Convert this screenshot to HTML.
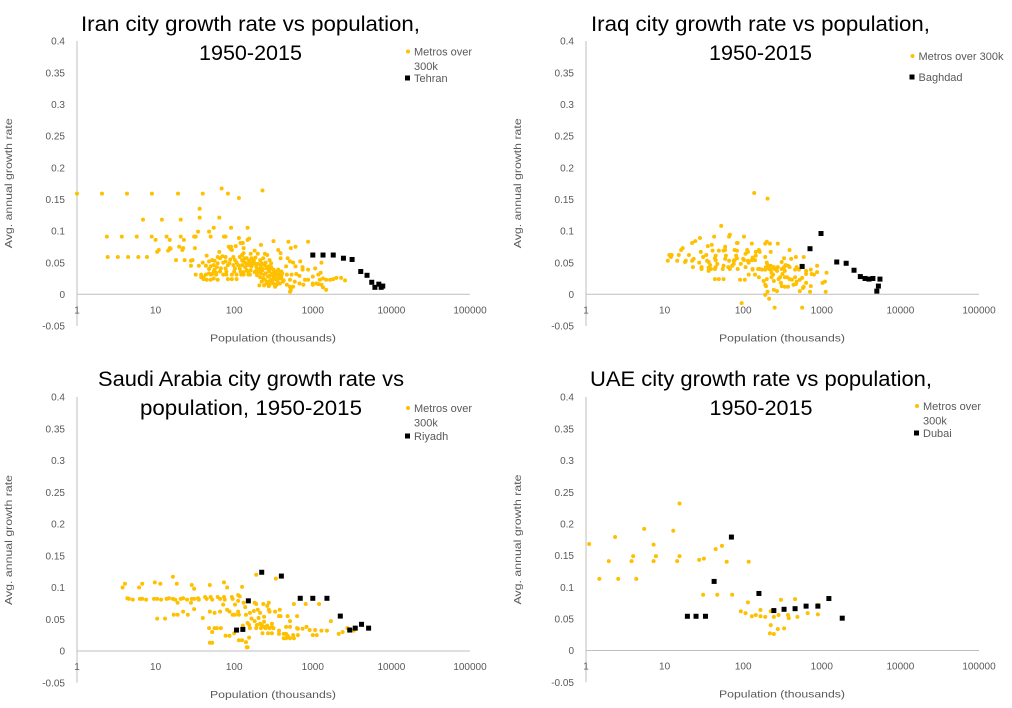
<!DOCTYPE html>
<html lang="en">
<head>
<meta charset="utf-8">
<title>City growth rate vs population, 1950-2015</title>
<style>
html,body{margin:0;padding:0;background:#fff;}
svg{display:block;font-family:"Liberation Sans",Arial,sans-serif;}
</style>
</head>
<body>
<svg id="chart-page" xmlns="http://www.w3.org/2000/svg" width="1012" height="708" viewBox="0 0 1012 708"></svg>
<script>
const xTickLabels = [1, 10, 100, 1000, 10000, 100000];
const yTickLabels = [0.4, 0.35, 0.3, 0.25, 0.2, 0.15, 0.1, 0.05, 0, -0.05];

/* Population is stored as log10(thousands); rate is average annual growth. */
const iranMetroLogPop = [
0,.318,.636,.953,1.285,1.6,1.84,1.92,2.06,2.36,
1.56,1.56,1.81,.84,1.08,1.32,
.38,.57,.76,.95,1.14,1.32,1.49,1.5,1.51,1.7,1.87,1.88,1.89,
1.54,1.68,1.74,1.96,2.17,2.06,2.19,2.17,
1,1.18,1.36,2.5,2.69,2.94,2.08,2.11,2.34,2.72,2.78,
2.02,1.93,1.96,1.95,1.97,2.12,1.5,1.3,1.35,1.34,1.18,1.19,1.16,1.04,1.02,
2.56,2.59,2.59,1.81,2.26,2.21,2.3,2.39,2.42,2.12,1.65,
.39,.52,.65,.78,.89,
1.26,1.37,1.47,1.45,1.45,1.55,1.6,1.64,
1.68,1.72,1.74,1.68,1.75,1.79,1.82,1.85,1.79,1.83,1.75,1.68,
1.89,1.89,1.92,1.94,1.89,1.99,2.01,1.99,2.01,2.07,2.1,2.1,2.1,2.07,2.12,2.16,2.18,2.22,2.24,2.22,
2.26,2.28,2.33,2.35,2.37,2.39,2.33,2.41,2.45,2.47,2.5,2.45,2.68,2.71,2.75,2.66,2.78,2.84,2.87,2.87,
2.94,3.03,3.11,3.1,
1.51,1.58,1.64,1.7,1.77,1.86,1.9,1.97,2.03,2.09,2.12,2.18,2.2,
1.58,1.61,1.61,1.65,1.7,1.74,1.79,1.92,1.97,2.03,1.74,1.82,1.72,1.77,
2.34,2.38,2.33,2.4,2.43,2.39,2.45,2.48,2.52,2.56,2.6,2.37,2.5,2.54,2.58,2.61,2.47,2.52,2.56,2.6,
2.41,2.45,2.5,2.54,2.58,2.62,2.67,2.71,2.43,2.6,2.67,2.73,2.79,2.83,2.71,2.77,2.83,2.88,2.75,2.72,2.71,
2.9,2.94,3,3.07,3.09,3.13,3.17,3.22,3.26,3.3,3.36,3.41,3,3.05,3.11,3,3.13,3.17,3.07,
2.28,2.31,2.36,2.44,2.49,2.53,2.57,2.29,2.35,2.42,2.46,2.51,2.55,2.59,2.63,2.32,2.38,2.44,2.52,2.48,
1.7,1.78,1.86,1.95,2.03,2.05,2.13,2.15,2.19,2.2,2.23,2.25,2.27,2.3,2.31,
2.14,2.16,2.08,2,1.9,2.21,2.26,2.29,2.34,2.36,2.4,2.44,2.47,2.18,2.12
];
const iranMetroRate = [
.159,.159,.159,.159,.159,.159,.167,.159,.152,.164,
.135,.121,.121,.118,.118,.118,
.091,.091,.091,.091,.091,.091,.091,.091,.091,.091,.091,.091,.091,
.099,.099,.105,.105,.105,.089,.088,.086,
.086,.086,.086,.084,.083,.083,.081,.081,.078,.073,.075,
.076,.075,.075,.072,.07,.073,.073,.075,.073,.07,.073,.072,.069,.07,.067,
.07,.065,.057,.067,.069,.064,.064,.064,.062,.065,.061,
.059,.059,.059,.059,.059,
.054,.054,.054,.053,.045,.045,.05,.045,
.052,.054,.046,.04,.053,.059,.057,.06,.049,.041,.039,.033,
.059,.052,.046,.049,.041,.059,.054,.046,.041,.059,.062,.054,.046,.041,.052,.057,.046,.057,.052,.044,
.049,.044,.054,.049,.057,.046,.041,.041,.054,.049,.039,.039,.057,.052,.05,.044,.044,.052,.043,.039,
.039,.041,.05,.034,
.031,.031,.031,.031,.031,.031,.031,.031,.031,.031,.031,.031,.031,
.027,.024,.027,.023,.023,.025,.023,.024,.024,.024,.036,.036,.032,.034,
.033,.031,.027,.033,.028,.023,.029,.033,.036,.039,.036,.025,.028,.031,.031,.033,.023,.024,.025,.025,
.017,.015,.017,.015,.017,.02,.015,.012,.02,.029,.031,.031,.032,.029,.023,.02,.017,.015,.012,.007,.004,
.023,.023,.028,.031,.023,.025,.023,.023,.024,.026,.026,.022,.017,.017,.015,.015,.011,.007,.016,
.037,.035,.038,.036,.033,.03,.034,.03,.02,.018,.022,.026,.021,.026,.022,.014,.014,.013,.012,.02,
.044,.043,.05,.055,.05,.046,.057,.049,.053,.049,.047,.054,.058,.048,.038,
.043,.038,.036,.036,.036,.038,.035,.04,.045,.04,.05,.044,.043,.035,.035
];
const iranCityLogPop = [3,3.13,3.26,3.39,3.5,3.61,3.69,3.75,3.79,3.84,3.87,3.89];
const iranCityRate = [.062,.062,.062,.057,.055,.036,.03,.019,.011,.016,.011,.013];

const iraqMetroLogPop = [
2.14,2.31,1.72,1.83,1.82,1.63,1.45,2.01,1.39,1.35,2.11,2.3,2.28,2.34,2.44,1.92,1.93,1.55,1.6,1.23,1.21,1.77,1.46,1.61,
1.69,1.75,1.77,1.89,1.92,2.05,2.06,2.03,2.2,2.21,2.16,2.35,2.59,
1.06,1.09,1.08,1.18,1.04,1.16,1.31,1.26,1.27,1.35,1.37,1.36,1.44,1.49,1.53,
1.54,1.56,1.58,1.47,1.47,1.56,1.56,1.65,1.64,1.65,1.67,1.65,1.64,1.59,1.64,1.69,1.75,
1.78,1.77,1.82,1.75,1.74,1.81,1.83,1.86,1.88,1.91,1.92,1.89,1.88,1.93,1.97,2.01,2,
1.96,2.02,2.07,2.15,2.03,2.07,2.06,2.11,2.12,2.16,2.15,2.12,2.12,2.19,2.2,2.21,2.24,2.28,
2.28,2.29,2.3,2.31,2.33,2.35,2.35,2.36,2.39,2.4,2.38,2.42,2.44,2.43,2.36,2.39,
2.26,2.28,2.3,2.29,2.31,2.28,2.33,1.98,2.4,2.75,2.39,2.43,
2.45,2.48,2.49,2.53,2.57,2.47,2.53,2.56,2.59,2.62,2.64,2.67,2.68,
2.49,2.52,2.49,2.52,2.53,2.5,2.54,2.57,2.59,2.61,2.67,2.77,
2.66,2.68,2.71,2.66,2.72,2.75,2.8,2.86,2.72,2.76,2.85,2.77,
2.8,2.8,2.86,2.87,2.9,2.94,2.94,3.06,3.01,3.04,3.05
];
const iraqMetroRate = [
.16,.151,.108,.094,.091,.091,.089,.091,.084,.081,.08,.083,.08,.08,.08,.081,.081,.076,.078,.073,.07,.075,.067,.069,
.069,.069,.07,.07,.069,.07,.067,.064,.07,.067,.067,.067,.07,
.062,.062,.059,.062,.053,.053,.062,.051,.053,.053,.056,.043,.05,.059,.062,
.053,.051,.046,.043,.04,.037,.042,.061,.057,.054,.048,.043,.04,.04,.024,.024,.024,
.061,.056,.053,.045,.04,.043,.04,.045,.048,.061,.057,.054,.053,.04,.048,.054,.056,
.023,.023,.031,.031,.043,.05,.053,.054,.058,.061,.054,.04,.039,.04,.027,.04,.039,.059,
.039,.043,.05,.046,.04,.045,.039,.034,.043,.04,.031,.04,.043,.037,.027,.021,
.021,.015,.024,.013,.004,-.001,-.007,-.014,-.021,-.021,.007,.005,
.024,.018,.013,.012,.012,.027,.027,.027,.024,.023,.015,.016,.02,
.051,.057,.04,.043,.037,.032,.046,.045,.043,.056,.059,.059,
.039,.043,.039,.027,.023,.026,.018,.013,.005,.01,.004,.012,
.037,.032,.039,.032,.031,.045,.035,.034,.018,.02,.004
];
const iraqCityLogPop = [2.75,2.85,2.99,3.19,3.31,3.41,3.49,3.55,3.6,3.65,3.74,3.72,3.7];
const iraqCityRate = [.044,.072,.096,.051,.049,.038,.028,.025,.024,.025,.024,.013,.005];

const saudiMetroLogPop = [
.58,.61,.79,.83,.99,1.06,1.22,1.27,1.46,1.49,1.69,1.87,1.91,2.1,2.28,2.53,
.64,.66,.71,.8,.83,.88,.98,1.02,1.07,1.14,1.17,1.22,1.25,1.32,1.35,1.4,1.46,1.49,1.54,1.55,
1.63,1.65,1.7,1.72,1.79,1.82,1.87,1.88,1.97,1.98,2.05,2.07,
1.28,1.45,1.86,2.01,2.05,2.12,2.14,2.26,2.28,2.37,2.42,2.44,2.76,2.91,3.08,
1.49,1.69,1.75,1.82,1.91,1.94,1.98,2.01,2.05,2.06,2.15,2.2,2.25,2.3,2.33,2.44,2.45,2.52,2.58,2.57,2.59,
1.23,1.28,1.35,1.41,1.6,1.02,1.12,2.38,2.31,2.68,2.8,2.71,3.23,
2.22,2.26,2.38,2.17,2.19,2.2,2.11,2.29,2.33,2.28,2.34,2.38,2.4,2.35,2.42,2.45,2.48,2.48,2.5,
1.68,1.72,1.75,1.78,1.83,1.89,1.94,2,2.06,2.1,2.19,2.15,2.16,2.17,1.69,1.72,
2.36,2.43,2.48,2.57,2.57,2.63,2.66,2.63,2.66,2.68,2.71,2.75,2.76,2.81,
2.66,2.71,2.8,2.81,2.87,2.92,2.96,3.03,3,3.05,3.11,3.18,3.33,3.38,3.44,3.52
];
const saudiMetroRate = [
.1,.106,.1,.106,.108,.106,.117,.106,.104,.098,.104,.108,.1,.101,.12,.114,
.083,.082,.081,.082,.082,.081,.082,.082,.081,.082,.083,.082,.081,.082,.083,.081,.082,.082,.083,.081,
.085,.082,.085,.081,.085,.082,.085,.081,.085,.082,.088,.086,
.076,.076,.073,.073,.079,.076,.069,.076,.074,.074,.071,.076,.074,.074,.074,
.066,.062,.06,.062,.065,.062,.057,.057,.062,.057,.057,.06,.063,.065,.06,.065,.062,.062,.065,.055,.055,
.057,.057,.062,.057,.052,.051,.051,.054,.052,.055,.055,.047,.047,
.051,.047,.046,.044,.041,.036,.04,.041,.043,.036,.036,.038,.036,.041,.04,.036,.043,.038,.036,
.036,.03,.036,.036,.036,.024,.024,.028,.017,.017,.021,.014,.006,.006,.013,.013,
.028,.028,.028,.032,.027,.027,.027,.02,.02,.024,.02,.025,.02,.025,
.038,.038,.036,.035,.035,.038,.033,.033,.025,.025,.032,.032,.027,.03,.036,.032
];
const saudiCityLogPop = [2.03,2.11,2.18,2.35,2.6,2.84,3,3.18,3.35,3.47,3.54,3.62,3.71];
const saudiCityRate = [.033,.034,.079,.124,.118,.083,.083,.083,.055,.033,.036,.042,.036];

const uaeMetroLogPop = [
.04,.17,.29,.37,.41,.58,.6,.64,.74,.86,.86,.89,1.11,1.16,1.19,1.19,1.44,1.5,1.49,1.67,1.65,1.73,1.79,1.86,2.07,2.06,
1.97,2.03,2.11,2.16,2.22,2.22,2.28,2.35,2.39,2.45,2.48,2.35,2.34,2.39,2.44,2.52,2.57,2.58,2.66,2.69,2.82,2.95,2.95
];
const uaeMetroRate = [
.168,.113,.141,.179,.113,.141,.149,.113,.192,.167,.141,.149,.189,.141,.232,.149,.143,.145,.088,.088,.16,.165,.14,.088,.14,.076,
.062,.059,.054,.056,.054,.064,.053,.062,.053,.056,.08,.04,.027,.026,.034,.035,.056,.051,.081,.053,.059,.057,.072
];
const uaeCityLogPop = [1.29,1.4,1.52,1.63,1.85,2.2,2.39,2.52,2.66,2.8,2.95,3.09,3.26];
const uaeCityRate = [.054,.054,.054,.109,.179,.09,.063,.065,.066,.07,.07,.082,.051];

const SVG_NS = 'http://www.w3.org/2000/svg';
const page = document.getElementById('chart-page');

function make(parent, tag, attrs, text) {
  const el = document.createElementNS(SVG_NS, tag);
  for (const k in attrs) el.setAttribute(k, attrs[k]);
  if (text !== undefined) el.textContent = text;
  parent.appendChild(el);
  return el;
}

function drawPanel(p) {
  const group = make(page, 'g', {});
  
  

  const pxPerDecade = 78.6;
  const pxPerRate = (p.y0 - p.yTop) / 0.4;
  const xScale = (logPop) => p.x0 + logPop * pxPerDecade;
  const yScale = (rate) => p.y0 - rate * pxPerRate;

  p.title.forEach((t, i) => {
    const title = make(group, 'text', {
      x: p.titleX, y: p.titleY + i * 29.2, 'text-anchor': 'middle',
      'font-size': 21.5, fill: '#000', textLength: p.titleLen[i], lengthAdjust: 'spacingAndGlyphs'
    }, t);
    
    
  });

  const yAxis = make(group, 'line', {
    x1: p.x0, x2: p.x0, y1: yScale(0.4), y2: yScale(-0.05), stroke: '#bfbfbf', 'stroke-width': 1
  });
  
  

  const xAxis = make(group, 'line', {
    x1: xScale(0), x2: xScale(Math.log10(xTickLabels[xTickLabels.length - 1])),
    y1: yScale(0), y2: yScale(0), stroke: '#bfbfbf', 'stroke-width': 1
  });
  
  

  yTickLabels.forEach((v) => {
    const tick = make(group, 'text', {
      x: p.x0 - 12, y: yScale(v) + 3.7, 'text-anchor': 'end', 'font-size': 10, fill: '#595959'
    }, String(v));
    
    
  });

  xTickLabels.forEach((v) => {
    const tick = make(group, 'text', {
      x: xScale(Math.log10(v)), y: yScale(0) + 19, 'text-anchor': 'middle', 'font-size': 10, fill: '#595959'
    }, String(v));
    
    
  });

  const xTitle = make(group, 'text', {
    x: p.x0 + 196, y: yScale(0) + 47, 'text-anchor': 'middle', 'font-size': 10.5, fill: '#595959',
    textLength: 126, lengthAdjust: 'spacingAndGlyphs'
  }, 'Population (thousands)');
  
  

  const yMid = yScale(0) - 111;
  const yTitle = make(group, 'text', {
    x: p.x0 - 65, y: yMid, 'text-anchor': 'middle', 'font-size': 10.5, fill: '#595959',
    textLength: 130, lengthAdjust: 'spacingAndGlyphs',
    transform: 'rotate(-90 ' + (p.x0 - 65) + ' ' + yMid + ')'
  }, 'Avg. annual growth rate');
  
  

  p.metroLogPop.forEach((lp, i) => {
    const dot = make(group, 'circle', { cx: xScale(lp), cy: yScale(p.metroRate[i]), r: 2, fill: '#ffc000' });
    
    
  });

  p.cityLogPop.forEach((lp, i) => {
    const sq = make(group, 'rect', { x: xScale(lp) - 2.5, y: yScale(p.cityRate[i]) - 2.5, width: 5, height: 5, fill: '#000' });
    
    
  });

  const legend = make(group, 'g', {});
  
  

  const legendDot = make(legend, 'circle', { cx: p.legendX - 6, cy: p.legendY, r: 2, fill: '#ffc000' });
  
  

  p.legendLines.forEach((t, i) => {
    const line = make(legend, 'text', {
      x: p.legendX, y: p.legendY + 3.8 + i * 14.5, 'font-size': 11, fill: '#595959'
    }, t);
    
    
  });

  const legendSq = make(legend, 'rect', { x: p.legendX - 9, y: p.legendCityY - 2.5, width: 5, height: 5, fill: '#000' });
  
  

  const cityLabel = make(legend, 'text', {
    x: p.legendX, y: p.legendCityY + 3.8, 'font-size': 11, fill: '#595959'
  }, p.city);
  
  
}

drawPanel({
  key: 'iran', x0: 77, y0: 294.3, yTop: 41,
  title: ['Iran city growth rate vs population,', '1950-2015'], titleLen: [339, 103], titleX: 250.5, titleY: 31,
  legendX: 414, legendY: 51.5, legendCityY: 78, legendLines: ['Metros over', '300k'], city: 'Tehran',
  metroLogPop: iranMetroLogPop, metroRate: iranMetroRate, cityLogPop: iranCityLogPop, cityRate: iranCityRate
});
drawPanel({
  key: 'iraq', x0: 586, y0: 294.3, yTop: 41,
  title: ['Iraq city growth rate vs population,', '1950-2015'], titleLen: [339, 103], titleX: 760.5, titleY: 31,
  legendX: 918.5, legendY: 56, legendCityY: 77, legendLines: ['Metros over 300k'], city: 'Baghdad',
  metroLogPop: iraqMetroLogPop, metroRate: iraqMetroRate, cityLogPop: iraqCityLogPop, cityRate: iraqCityRate
});
drawPanel({
  key: 'saudi-arabia', x0: 77, y0: 651, yTop: 397,
  title: ['Saudi Arabia city growth rate vs', 'population, 1950-2015'], titleLen: [306, 222], titleX: 251, titleY: 386,
  legendX: 414, legendY: 408, legendCityY: 436, legendLines: ['Metros over', '300k'], city: 'Riyadh',
  metroLogPop: saudiMetroLogPop, metroRate: saudiMetroRate, cityLogPop: saudiCityLogPop, cityRate: saudiCityRate
});
drawPanel({
  key: 'uae', x0: 586, y0: 650.5, yTop: 397,
  title: ['UAE city growth rate vs population,', '1950-2015'], titleLen: [342, 103], titleX: 761, titleY: 386,
  legendX: 923, legendY: 406, legendCityY: 433, legendLines: ['Metros over', '300k'], city: 'Dubai',
  metroLogPop: uaeMetroLogPop, metroRate: uaeMetroRate, cityLogPop: uaeCityLogPop, cityRate: uaeCityRate
});
</script>
</body>
</html>
